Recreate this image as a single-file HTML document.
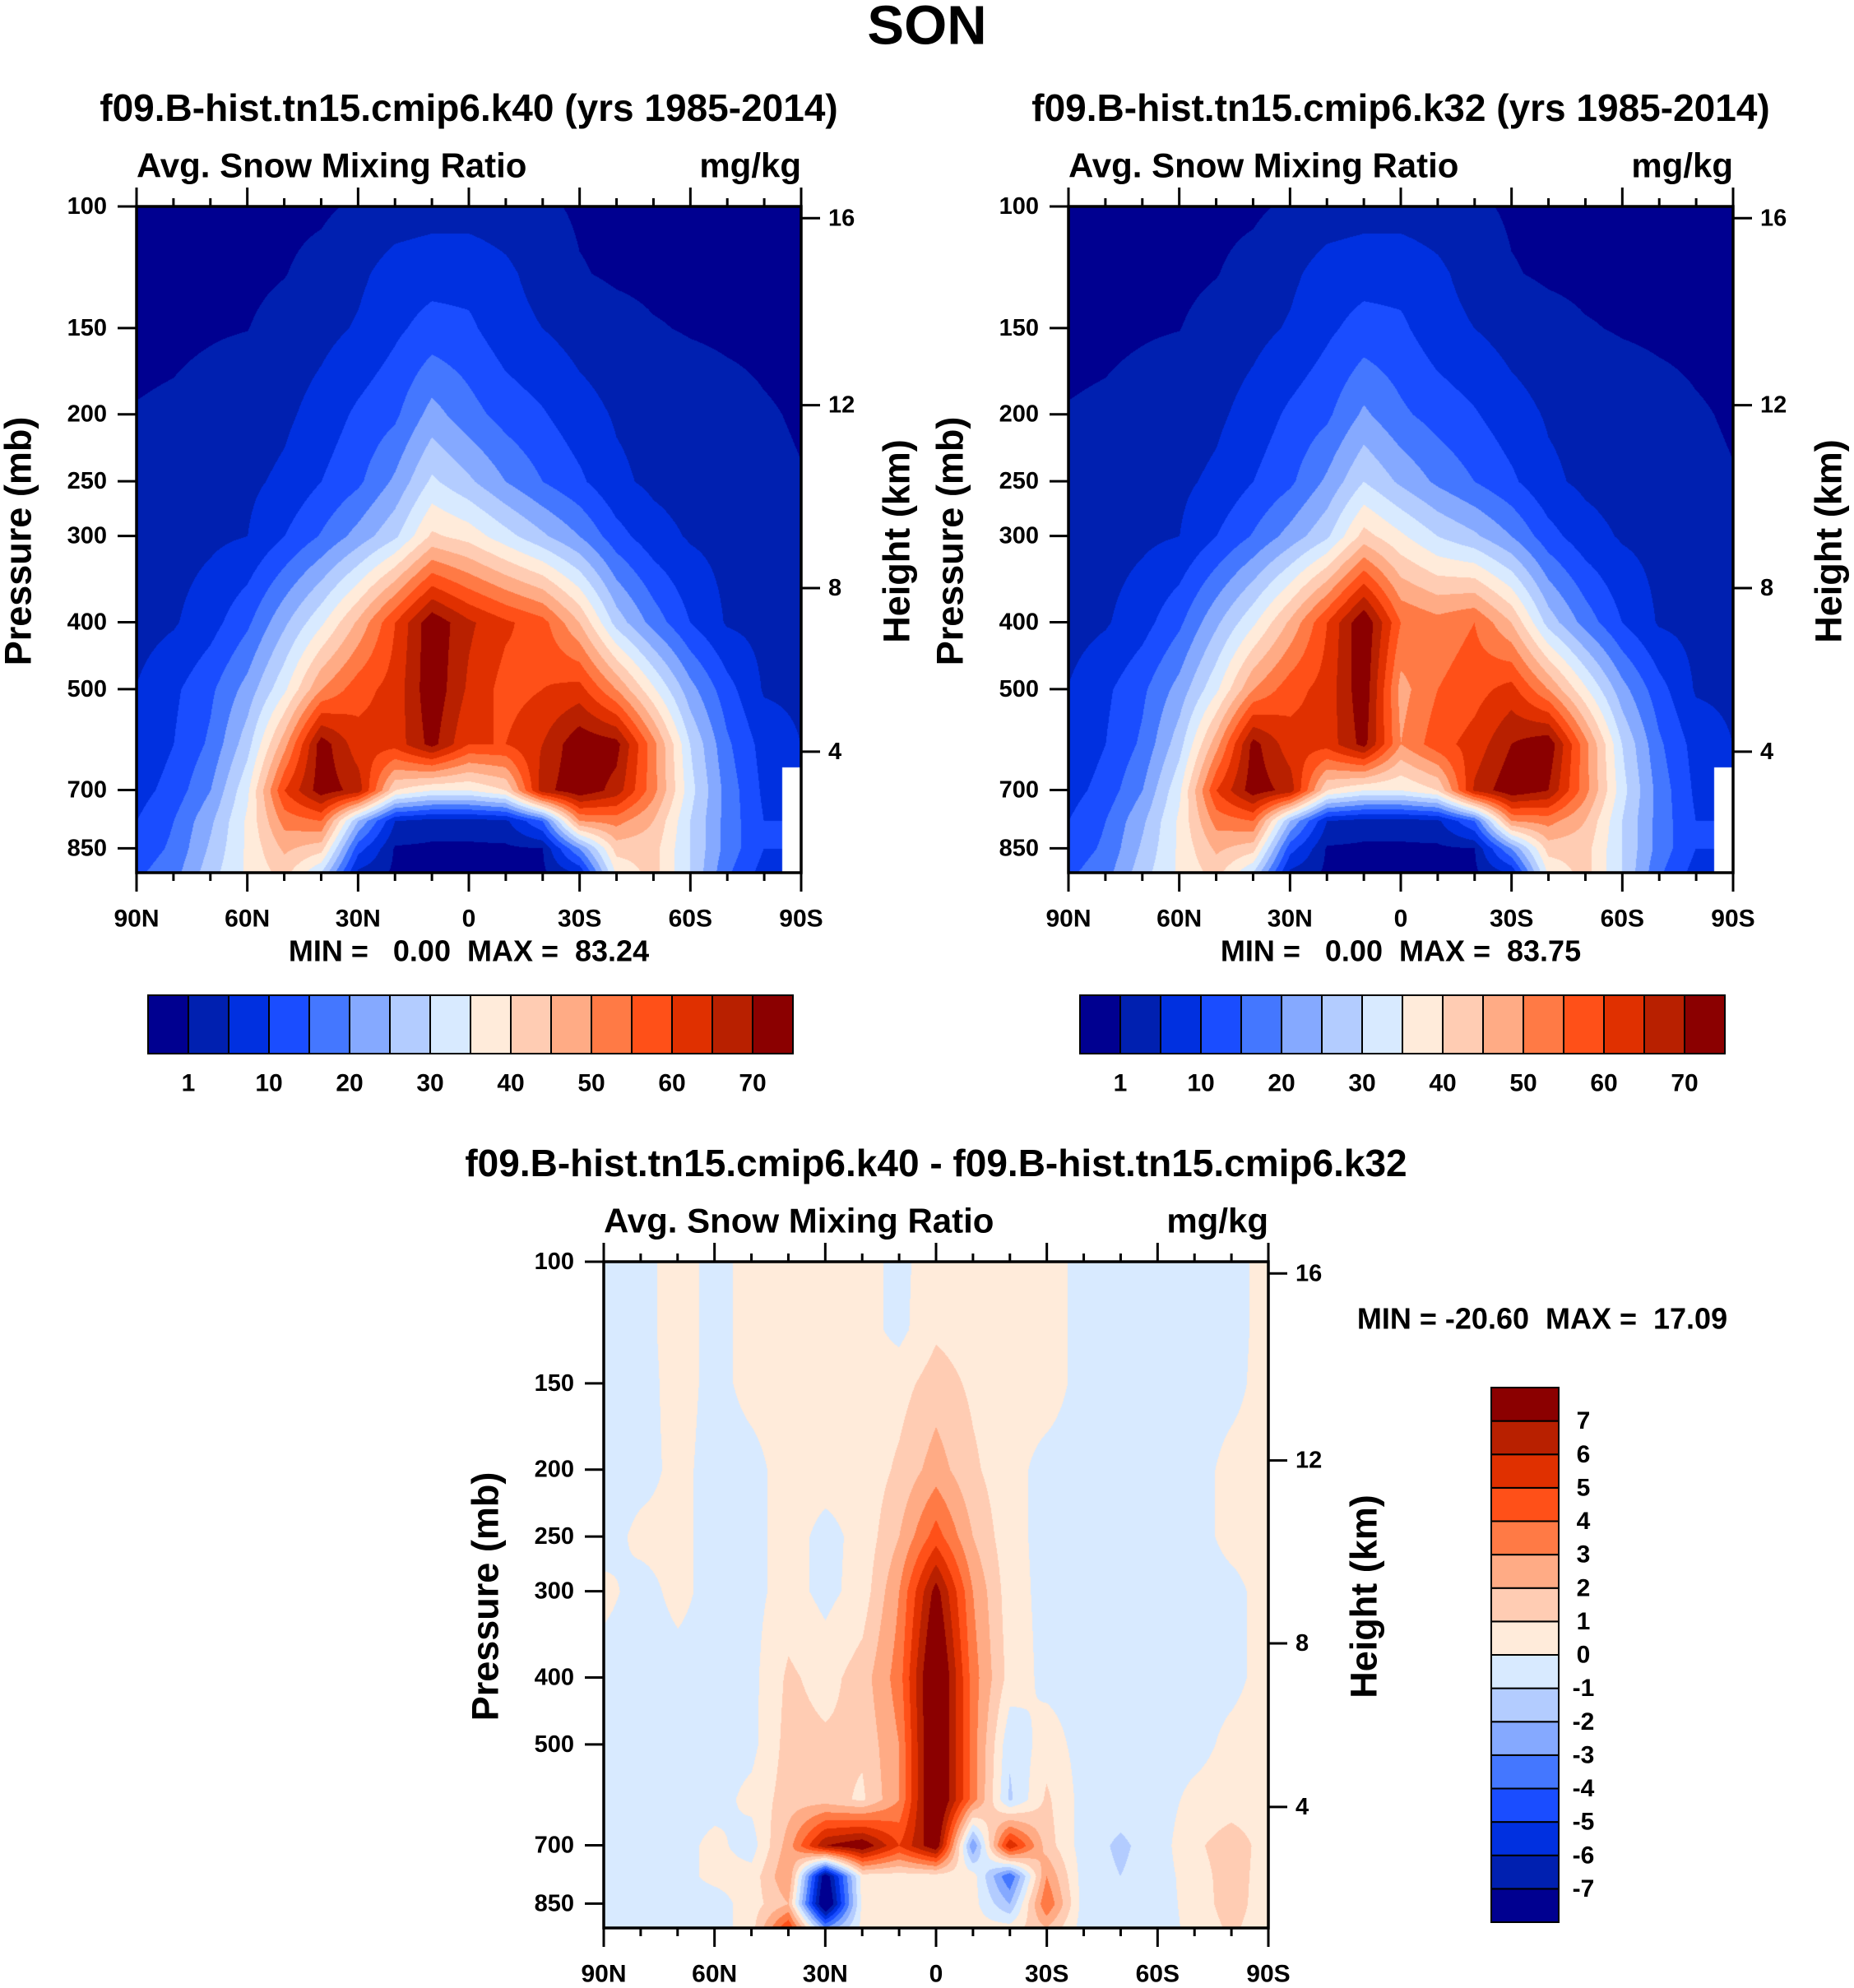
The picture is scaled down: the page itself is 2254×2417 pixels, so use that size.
<!DOCTYPE html>
<html><head><meta charset="utf-8">
<style>
html,body{margin:0;padding:0;background:#fff;}
#root{position:relative;width:2254px;height:2417px;overflow:hidden;background:#fff;}
canvas{position:absolute;}
svg{position:absolute;left:0;top:0;}
text{font-family:"Liberation Sans",sans-serif;font-weight:bold;fill:#000;white-space:pre;}
</style></head>
<body>
<div id="root">
<canvas id="c1" style="left:166px;top:251px" width="808" height="810"></canvas>
<canvas id="c2" style="left:1299px;top:251px" width="808" height="810"></canvas>
<canvas id="c3" style="left:734px;top:1534px" width="808" height="810"></canvas>
<svg id="ov" width="2254" height="2417"></svg>
</div>
<script>
const PRESS = [100,125,150,200,250,300,400,500,600,700,775,850,920];
const LATS = ["90N","80N","70N","60N","50N","40N","30N","20N","10N","0","10S","20S","30S","40S","50S","60S","70S","80S","90S"];
const LAT_TICK_LABELS = ["90N","60N","30N","0","30S","60S","90S"];
const P_TICKS = [100,150,200,250,300,400,500,700,850];
const HEIGHT_KM = [4,8,12,16];
const HEIGHT_P = [616,357,194,104];
const LEV_ABS = [1,5,10,15,20,25,30,35,40,45,50,55,60,65,70];
const LEV_ABS_LABELS = ["1","10","20","30","40","50","60","70"];
const LEV_DIFF = [-7,-6,-5,-4,-3,-2,-1,0,1,2,3,4,5,6,7];
const COLORS = ["#000090","#0020b0","#0030e0","#1a4dff","#4477ff","#85a9ff","#b3ccff","#d8eaff","#ffebda","#ffccb3","#ffab85","#ff7a45","#ff5018","#e03000","#b82000","#8b0000"];
const K40 = [
[0.3,0.3,0.3,0.3,0.3,0.5,1.5,2.5,3,3,2.5,1.5,0.6,0.3,0.3,0.3,0.3,0.3,0.3],
[0.4,0.4,0.4,0.4,0.9,2,4,7,8,8,6,3,1.2,0.6,0.4,0.4,0.4,0.4,0.4],
[0.5,0.6,0.8,0.95,2,3.5,5.5,9,12,11,7,5,3,2,1.2,0.8,0.6,0.5,0.4],
[1.1,1.3,1.8,2.5,4,7,11,14,22,17,13,10.5,7,4.5,3.5,2.5,1.8,1.2,0.8],
[2,2.5,3,4,6,10,14,21,31,26,20,15,11,6,4,3,2,1.5,1.1],
[2.5,3,4,5,10,15.5,22,29,41,38,32,26,20,12,7,4.5,3.5,2.5,1.8],
[3,4.5,8,14,24,34,46,60,74,66,61,57,45,28,18,10,4.5,3.5,3],
[5.2,9,14,22,34,50,58,62,74,64,58,60,62,50,36,22,12,4.5,4],
[6,10,16,28,48,73,62,62,72,60,60,65,74,72,52,30,16,8,5],
[8,12,20,34,60,73,68,40,35,35,40,68,74,68,52,32,18,9,null],
[10,15,24,36,52,55,25,5,3,3,4,15,50,52,45,30,18,10,null],
[12,16,26,36,46,42,12,0.5,0.3,0.3,0.3,0.8,20,42,42,30,18,10,null],
[14,18,28,36,42,30,4,0.3,0.3,0.3,0.3,0.3,6,36,42,30,16,8,null]];
const K32 = [
[0.3,0.3,0.3,0.3,0.3,0.5,1.5,2.5,3,3,2.5,1.5,0.6,0.3,0.3,0.3,0.3,0.3,0.3],
[0.4,0.4,0.4,0.4,0.9,2,4,7,8,8,6,3,1.2,0.6,0.4,0.4,0.4,0.4,0.4],
[0.5,0.6,0.8,0.95,2,3.5,5.5,9,12,11,7,5,3,2,1.2,0.8,0.6,0.5,0.4],
[1.1,1.3,1.8,2.5,4,7,11,14,21,16,13,10.5,7,4.5,3.5,2.5,1.8,1.2,0.8],
[2,2.5,3,4,6,10,14,21,30,24,19,15,11,6,4,3,2,1.5,1.1],
[2.5,3,4,5,10,15.5,22,29,42,36,30,26,20,12,7,4.5,3.5,2.5,1.8],
[3,4.5,8,14,24,34,46,60,75,55,52,55,45,28,18,10,4.5,3.5,3],
[5.2,9,14,22,34,50,58,62,74,48,55,58,62,50,36,22,12,4.5,4],
[6,10,16,28,48,72,62,62,72,50,58,62,70,74,52,30,16,8,5],
[8,12,20,34,60,73,68,40,35,35,40,66,74,70,52,32,18,9,null],
[10,15,24,36,52,55,25,5,3,3,4,15,50,52,45,30,18,10,null],
[12,16,26,36,46,42,12,0.5,0.3,0.3,0.3,0.8,20,42,42,30,18,10,null],
[14,18,28,36,42,30,4,0.3,0.3,0.3,0.3,0.3,6,36,42,30,16,8,null]];
const DIFF = [
[-0.5,-0.3,0.4,-0.3,0.3,0.4,0.5,0.4,-0.3,0.6,0.5,0.3,0.4,-0.3,-0.5,-0.5,-0.4,-0.3,0.3],
[-0.5,-0.3,0.4,-0.3,0.3,0.4,0.5,0.4,-0.3,0.8,0.5,0.3,0.4,-0.3,-0.5,-0.5,-0.4,-0.3,0.3],
[-0.5,-0.4,0.4,-0.3,0.3,0.4,0.4,0.4,0.6,1.5,0.8,0.3,0.4,-0.3,-0.5,-0.5,-0.4,-0.3,0.4],
[-0.5,-0.4,0.3,-0.4,-0.3,0.4,0.4,0.3,1.2,2.5,1.2,0.3,-0.3,-0.4,-0.5,-0.5,-0.4,0.3,0.4],
[-0.5,0.3,0.3,-0.4,-0.3,0.4,-0.3,0.3,2,4.5,2,0.3,-0.3,-0.4,-0.5,-0.5,-0.4,0.3,0.4],
[0.3,-0.4,0.3,-0.4,-0.3,0.4,-0.3,0.4,3,7.5,3,0.4,-0.3,-0.4,-0.5,-0.5,-0.4,-0.3,0.4],
[-0.5,-0.5,-0.4,-0.4,-0.3,1.2,0.6,1.5,3.5,9,3.5,0.6,-0.3,-0.4,-0.5,-0.5,-0.4,-0.3,0.4],
[-0.5,-0.5,-0.4,-0.4,-0.3,1.4,1.2,1.2,3,9,3.5,-0.8,0.5,-0.4,-0.5,-0.5,-0.4,0.3,0.5],
[-0.5,-0.5,-0.4,-0.4,0.3,1.5,1.5,0.8,3,9,3.5,-1.2,1.2,-0.4,-0.5,-0.5,0.3,0.5,0.6],
[-0.5,-0.5,-0.4,0.3,-0.5,2.5,7,8,5,8,-3,6,1.5,-0.5,-1.2,-0.5,0.8,1.5,0.6],
[-0.5,-0.5,-0.4,0.3,0.4,3,-8,0.5,0.5,0.5,0.5,-4,3,-0.5,-1,-0.5,0.5,1.5,0.5],
[-0.5,-0.5,-0.4,-0.5,0.5,2,-9,0.3,0.4,0.4,0.4,-2,4,-0.5,-0.5,-0.5,0.4,1.5,0.4],
[-0.5,-0.5,-0.4,-0.6,0.6,5,-3,0.3,0.4,0.4,0.4,0.4,2,-0.5,-0.5,-0.5,0.3,1.2,0.4]];

const PX_PER_DECADE = 839.6, PW = 808, PH = 810;
function yOfP(p){ return (Math.log10(p)-2)*PX_PER_DECADE; }
function xOfLat(j){ return j/(LATS.length-1)*PW; }
function colorIndex(v, lev){ let k=0; while(k<lev.length && v>=lev[k]) k++; return k; }
const LPS = PRESS.map(p=>Math.log10(p));
function sample(grid, fx, lp){
  let r = 0; while(r < LPS.length-2 && lp > LPS[r+1]) r++;
  let ty = (lp - LPS[r])/(LPS[r+1]-LPS[r]); ty = Math.max(0, Math.min(1, ty));
  let c = Math.min(Math.floor(fx), LATS.length-2); let tx = fx - c;
  const nr = ty<0.5? r : r+1, nc = tx<0.5? c : c+1;
  if (grid[nr][nc]===null) return null;
  const g=(a,b)=>{ const v=grid[a][b]; return v===null? grid[nr][nc] : v; };
  return (1-ty)*((1-tx)*g(r,c)+tx*g(r,c+1)) + ty*((1-tx)*g(r+1,c)+tx*g(r+1,c+1));
}
function hex(h){ return [parseInt(h.slice(1,3),16),parseInt(h.slice(3,5),16),parseInt(h.slice(5,7),16)]; }
const RGB = COLORS.map(hex);
function drawField(id, grid, lev){
  const cv=document.getElementById(id), ctx=cv.getContext('2d');
  const img=ctx.createImageData(PW,PH), d=img.data;
  for(let y=0;y<PH;y++){
    const lp = 2 + y/PX_PER_DECADE;
    for(let x=0;x<PW;x++){
      const fx = x/(PW-1)*(LATS.length-1);
      const v = sample(grid, fx, lp);
      const o=(y*PW+x)*4;
      let c = v===null? [255,255,255] : RGB[colorIndex(v, lev)];
      d[o]=c[0]; d[o+1]=c[1]; d[o+2]=c[2]; d[o+3]=255;
    }
  }
  ctx.putImageData(img,0,0);
}
drawField('c1', K40, LEV_ABS);
drawField('c2', K32, LEV_ABS);
drawField('c3', DIFF, LEV_DIFF);

const NS='http://www.w3.org/2000/svg', ov=document.getElementById('ov');
function el(tag, attrs, parent){ const e=document.createElementNS(NS,tag); for(const k in attrs) e.setAttribute(k,attrs[k]); (parent||ov).appendChild(e); return e; }
function txt(s,x,y,size,anchor,parent){ const t=el('text',{x:x,y:y,'font-size':size,'text-anchor':anchor||'middle','dominant-baseline':'central'},parent); t.textContent=s; return t; }

function drawAxes(L,T,name,title,minmax,mmx,mmy){
  const g=el('g',{});
  
  
  const t1=txt(title, L+PW/2, T-120, 46, 'middle', g);
  
  
  const t2=txt('Avg. Snow Mixing Ratio', L, T-50, 42, 'start', g);
  
  
  const t3=txt('mg/kg', L+PW, T-50, 42, 'end', g);
  
  
  const fr=el('rect',{x:L,y:T,width:PW,height:PH,fill:'none',stroke:'#000','stroke-width':3.5},g);
  
  
  for(let j=0;j<LATS.length;j++){
    const x=L+xOfLat(j), maj = j%3===0, len = maj?23:10;
    el('line',{x1:x,y1:T,x2:x,y2:T-len,stroke:'#000','stroke-width':3},g);
    el('line',{x1:x,y1:T+PH,x2:x,y2:T+PH+len,stroke:'#000','stroke-width':3},g);
  }
  LAT_TICK_LABELS.forEach((s,i)=>{ const t=txt(s, L+xOfLat(i*3), T+PH+56, 30, 'middle', g);
    
     });
  P_TICKS.forEach(p=>{ const y=T+yOfP(p);
    el('line',{x1:L,y1:y,x2:L-23,y2:y,stroke:'#000','stroke-width':3},g);
    const t=txt(String(p), L-36, y, 29, 'end', g);
    
     });
  HEIGHT_KM.forEach((h,i)=>{ const y=T+yOfP(HEIGHT_P[i]);
    el('line',{x1:L+PW,y1:y,x2:L+PW+23,y2:y,stroke:'#000','stroke-width':3},g);
    const t=txt(String(h), L+PW+33, y, 29, 'start', g);
    
     });
  const yl=txt('Pressure (mb)', 0, 0, 45, 'middle', g);
  yl.setAttribute('transform', `translate(${L-144},${T+407}) rotate(-90)`);
  
  
  const hl=txt('Height (km)', 0, 0, 45, 'middle', g);
  hl.setAttribute('transform', `translate(${L+PW+116},${T+407}) rotate(-90)`);
  
  
  const mm=txt(minmax, mmx, mmy, 36, 'middle', g);
  
  
}
const t0=txt('SON', 1127, 31, 67, 'middle');


drawAxes(166,251,'k40-panel','f09.B-hist.tn15.cmip6.k40 (yrs 1985-2014)','MIN =   0.00  MAX =  83.24',570,1156);
drawAxes(1299,251,'k32-panel','f09.B-hist.tn15.cmip6.k32 (yrs 1985-2014)','MIN =   0.00  MAX =  83.75',1703,1156);
drawAxes(734,1534,'diff-panel','f09.B-hist.tn15.cmip6.k40 - f09.B-hist.tn15.cmip6.k32','MIN = -20.60  MAX =  17.09',1875,1603);

function hbar(L,name){
  const g=el('g',{});
  
  
  const W=784, bw=W/COLORS.length;
  COLORS.forEach((c,i)=>{ const r=el('rect',{x:L+i*bw,y:1210,width:bw,height:71,fill:c,stroke:'#000','stroke-width':2},g);
    
     });
  LEV_ABS_LABELS.forEach((s,i)=>{ const t=txt(s, L+(1+2*i)*bw, 1317, 30, 'middle', g);
    
     });
}
hbar(180,'k40-colorbar');
hbar(1313,'k32-colorbar');
(function(){
  const g=el('g',{});
  
  
  const H=650, bh=H/COLORS.length, n=COLORS.length;
  COLORS.forEach((c,i)=>{ const r=el('rect',{x:1813,y:1687+(n-1-i)*bh,width:82,height:bh,fill:c,stroke:'#000','stroke-width':2},g);
    
     });
  LEV_DIFF.forEach((v,i)=>{ const t=txt(String(v), 1925, 1687+(n-1-i)*bh, 30, 'middle', g);
    
     });
})();
</script>
</body></html>
